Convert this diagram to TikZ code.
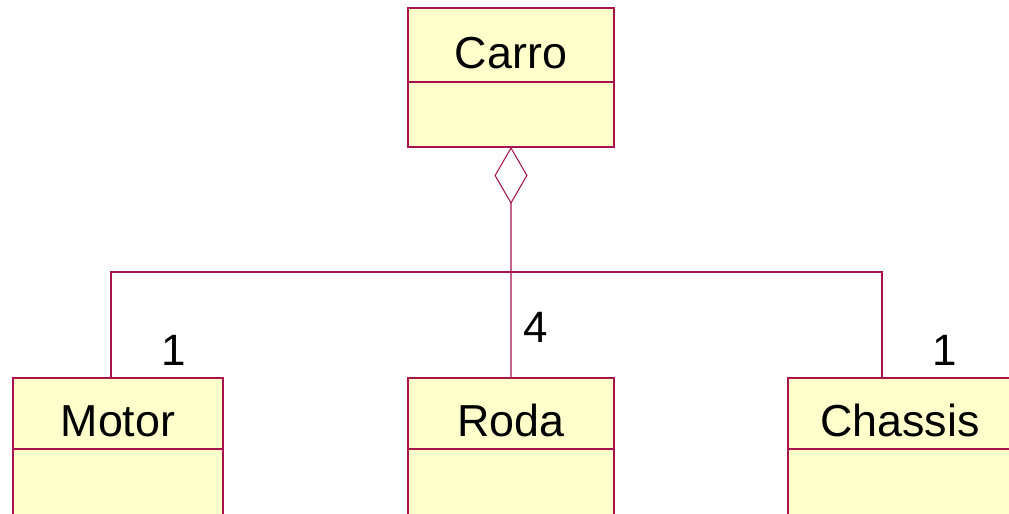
\documentclass[tikz,border=0pt]{standalone}
\usepackage{fontspec}
\setmainfont{Liberation Sans}
\usetikzlibrary{positioning,arrows.meta}
\definecolor{umlline}{RGB}{168,18,78}
\definecolor{umlfill}{RGB}{255,255,204}
\tikzset{
    classhead/.style={draw=umlline, fill=umlfill, line width=0.6pt, inner sep=0pt, outer sep=0pt,
        anchor=north west, text height=0.94cm, text depth=0cm, font=\fontsize{25.5}{30}\selectfont},
    classbody/.style={draw=umlline, fill=umlfill, line width=0.6pt, inner sep=0pt, outer sep=0pt},
    assoc/.style={draw=umlline, line width=0.6pt},
    mult/.style={font=\fontsize{25}{30}\selectfont, inner sep=0pt}
}
\begin{document}
\begin{tikzpicture}
    \useasboundingbox (0,0) rectangle (20.18,10.28);
    \clip (0,0) rectangle (20.18,10.28);
    % classes
    \node[classhead, minimum width=4.12cm, minimum height=1.48cm] (carro) at (8.16,10.12) {Carro};
    \node[classbody, minimum width=4.12cm, minimum height=1.30cm, below=0pt of carro] (carrobody) {};
    \node[classhead, minimum width=4.20cm, minimum height=1.42cm] (motor) at (0.26,2.72) {Motor};
    \node[classbody, minimum width=4.20cm, minimum height=2.00cm, below=0pt of motor] (motorbody) {};
    \node[classhead, minimum width=4.12cm, minimum height=1.42cm] (roda) at (8.16,2.72) {Roda};
    \node[classbody, minimum width=4.12cm, minimum height=2.00cm, below=0pt of roda] (rodabody) {};
    \node[classhead, minimum width=4.48cm, minimum height=1.42cm] (chassis) at (15.76,2.72) {Chassis};
    \node[classbody, minimum width=4.48cm, minimum height=2.00cm, below=0pt of chassis] (chassisbody) {};
    % aggregation
    \coordinate (bus) at (10.22,4.84);
    \draw[assoc, {Diamond[open, length=1.14cm, width=0.66cm, line width=0.6pt]}-] (carrobody.south) -- (bus);
    \draw[assoc] ([xshift=-0.14cm]motor.north) |- (bus) -| ([xshift=-0.36cm]chassis.north);
    \draw[assoc] (roda.north) -- (bus);
    % multiplicities
    \node[mult] (multmotor) at (3.48,3.28) {1};
    \node[mult] (multroda) at (10.72,3.74) {4};
    \node[mult] (multchassis) at (18.90,3.28) {1};
\end{tikzpicture}
\end{document}
